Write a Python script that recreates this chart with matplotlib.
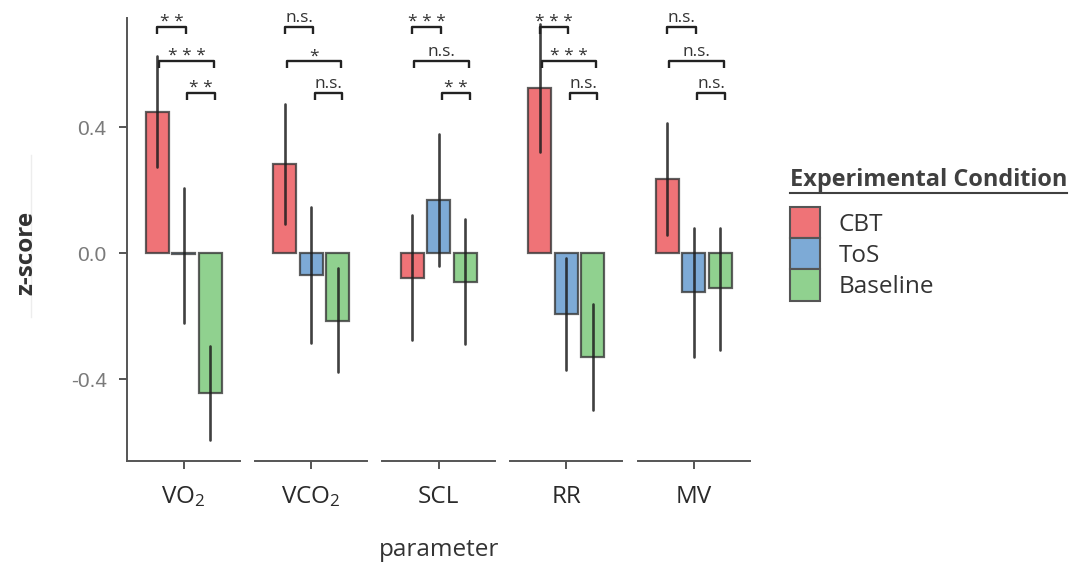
import matplotlib
matplotlib.use("Agg")
import matplotlib.pyplot as plt
from matplotlib.patches import Patch
from matplotlib.lines import Line2D

# data (z-scores, mean and interval ends)
params = ["VO$_2$", "VCO$_2$", "SCL", "RR", "MV"]
conditions = ["CBT", "ToS", "Baseline"]

cbt_mean = [0.448, 0.283, -0.080, 0.523, 0.235]
cbt_lo = [0.273, 0.092, -0.276, 0.320, 0.057]
cbt_hi = [0.626, 0.473, 0.120, 0.727, 0.413]

tos_mean = [-0.004, -0.070, 0.168, -0.194, -0.124]
tos_lo = [-0.222, -0.286, -0.041, -0.370, -0.330]
tos_hi = [0.206, 0.146, 0.378, -0.017, 0.080]

base_mean = [-0.445, -0.215, -0.093, -0.330, -0.111]
base_lo = [-0.594, -0.378, -0.290, -0.497, -0.308]
base_hi = [-0.295, -0.047, 0.107, -0.162, 0.080]

sig_cbt_tos = ["**", "n.s.", "***", "***", "n.s."]
sig_cbt_base = ["***", "*", "n.s.", "***", "n.s."]
sig_tos_base = ["**", "n.s.", "**", "n.s.", "n.s."]

colors = ["#EF7377", "#7DAAD6", "#90D18F"]
edge = (0.22, 0.22, 0.22, 0.8)
axis_grey = "#555555"

plt.rcParams["font.family"] = ["Open Sans", "DejaVu Sans"]
plt.rcParams["mathtext.fontset"] = "custom"
plt.rcParams["mathtext.rm"] = "Open Sans"
plt.rcParams["mathtext.it"] = "Open Sans:italic"

fig = plt.figure(figsize=(10.83, 5.64), dpi=100)
axes = fig.subplots(1, 5, sharey=True, gridspec_kw=dict(wspace=0.134))
fig.subplots_adjust(left=0.1177, right=0.6925, top=0.968, bottom=0.1826)

offsets = [-0.237, 0.0, 0.237]
bar_w = 0.205


def bracket(ax, x0, x1, y, label):
    ax.plot([x0, x0, x1, x1], [y - 0.022, y, y, y - 0.022], color="#222222",
            lw=1.7, clip_on=False, solid_capstyle="butt")
    xm = (x0 + x1) / 2
    if label.startswith("*"):
        # asterisks sit high in the glyph box, so pull them down
        ax.text(xm, y - 0.011, " ".join(label), ha="center", va="bottom",
                fontsize=12.5, color="#333333", clip_on=False)
    else:
        ax.text(xm, y + 0.004, label, ha="center", va="bottom",
                fontsize=12.5, color="#333333", clip_on=False)


for i, ax in enumerate(axes):
    means = [cbt_mean[i], tos_mean[i], base_mean[i]]
    lows = [cbt_lo[i], tos_lo[i], base_lo[i]]
    highs = [cbt_hi[i], tos_hi[i], base_hi[i]]
    ax.bar(offsets, means, width=bar_w, color=colors, edgecolor=edge, linewidth=1.6)
    ax.vlines(offsets, lows, highs, color="#1e1e1e", lw=1.9, alpha=0.85,
              capstyle="round")

    bracket(ax, offsets[0], offsets[1] + 0.02, 0.718, sig_cbt_tos[i])
    bracket(ax, offsets[0] + 0.02, offsets[2] + 0.03, 0.610, sig_cbt_base[i])
    bracket(ax, offsets[1] + 0.03, offsets[2] + 0.04, 0.508, sig_tos_base[i])

    ax.set_xlim(-0.5, 0.5)
    ax.set_ylim(-0.66, 0.746)
    ax.set_xticks([0])
    ax.set_xticklabels([params[i]], fontsize=17.5, color="#2a2a2a")
    ax.tick_params(axis="x", length=6, width=1.4, color=axis_grey, pad=11)
    for s in ["top", "right"]:
        ax.spines[s].set_visible(False)
    ax.spines["bottom"].set_color(axis_grey)
    ax.spines["bottom"].set_linewidth(1.4)
    if i == 0:
        ax.spines["left"].set_color(axis_grey)
        ax.spines["left"].set_linewidth(1.4)
        ax.set_yticks([-0.4, 0.0, 0.4])
        ax.set_yticklabels(["-0.4", "0.0", "0.4"], fontsize=15, color="#7a7a7a",
                           family="Liberation Sans")
        ax.tick_params(axis="y", length=6, width=1.4, color=axis_grey, pad=9)
    else:
        ax.spines["left"].set_visible(False)
        ax.tick_params(axis="y", left=False)

fig.text(26 / 1083, 1 - 253 / 564, "z-score", rotation=90, ha="center",
         va="center", fontsize=17.5, fontweight="bold", color="#333333")
fig.add_artist(Line2D([31 / 1083] * 2, [1 - 155 / 564, 1 - 317 / 564],
                      color="#ededed", lw=1))
fig.text(439 / 1083, 1 - 550 / 564, "parameter", ha="center", va="center",
         fontsize=17.5, color="#333333")

# legend
handles = [Patch(facecolor=c, edgecolor="#555555", linewidth=1.5) for c in colors]
fig.legend(handles, conditions, loc="upper left",
           bbox_to_anchor=(790 / 1083, 1 - 207 / 564), frameon=False,
           borderpad=0, borderaxespad=0, fontsize=17.5, handlelength=1.25,
           handleheight=1.6, labelspacing=0, handletextpad=0.75,
           labelcolor="#333333")
title = fig.text(790 / 1083, 1 - 180 / 564, "Experimental Condition",
                 ha="left", va="center", fontsize=16.9, fontweight="bold",
                 color="#404040")
fig.canvas.draw()
bb = title.get_window_extent()
W, H = fig.bbox.width, fig.bbox.height
fig.add_artist(Line2D([bb.x0 / W, bb.x1 / W], [(bb.y0 - 1) / H] * 2,
                      color="#404040", lw=1.5))

fig.savefig("out.png", dpi=100)
